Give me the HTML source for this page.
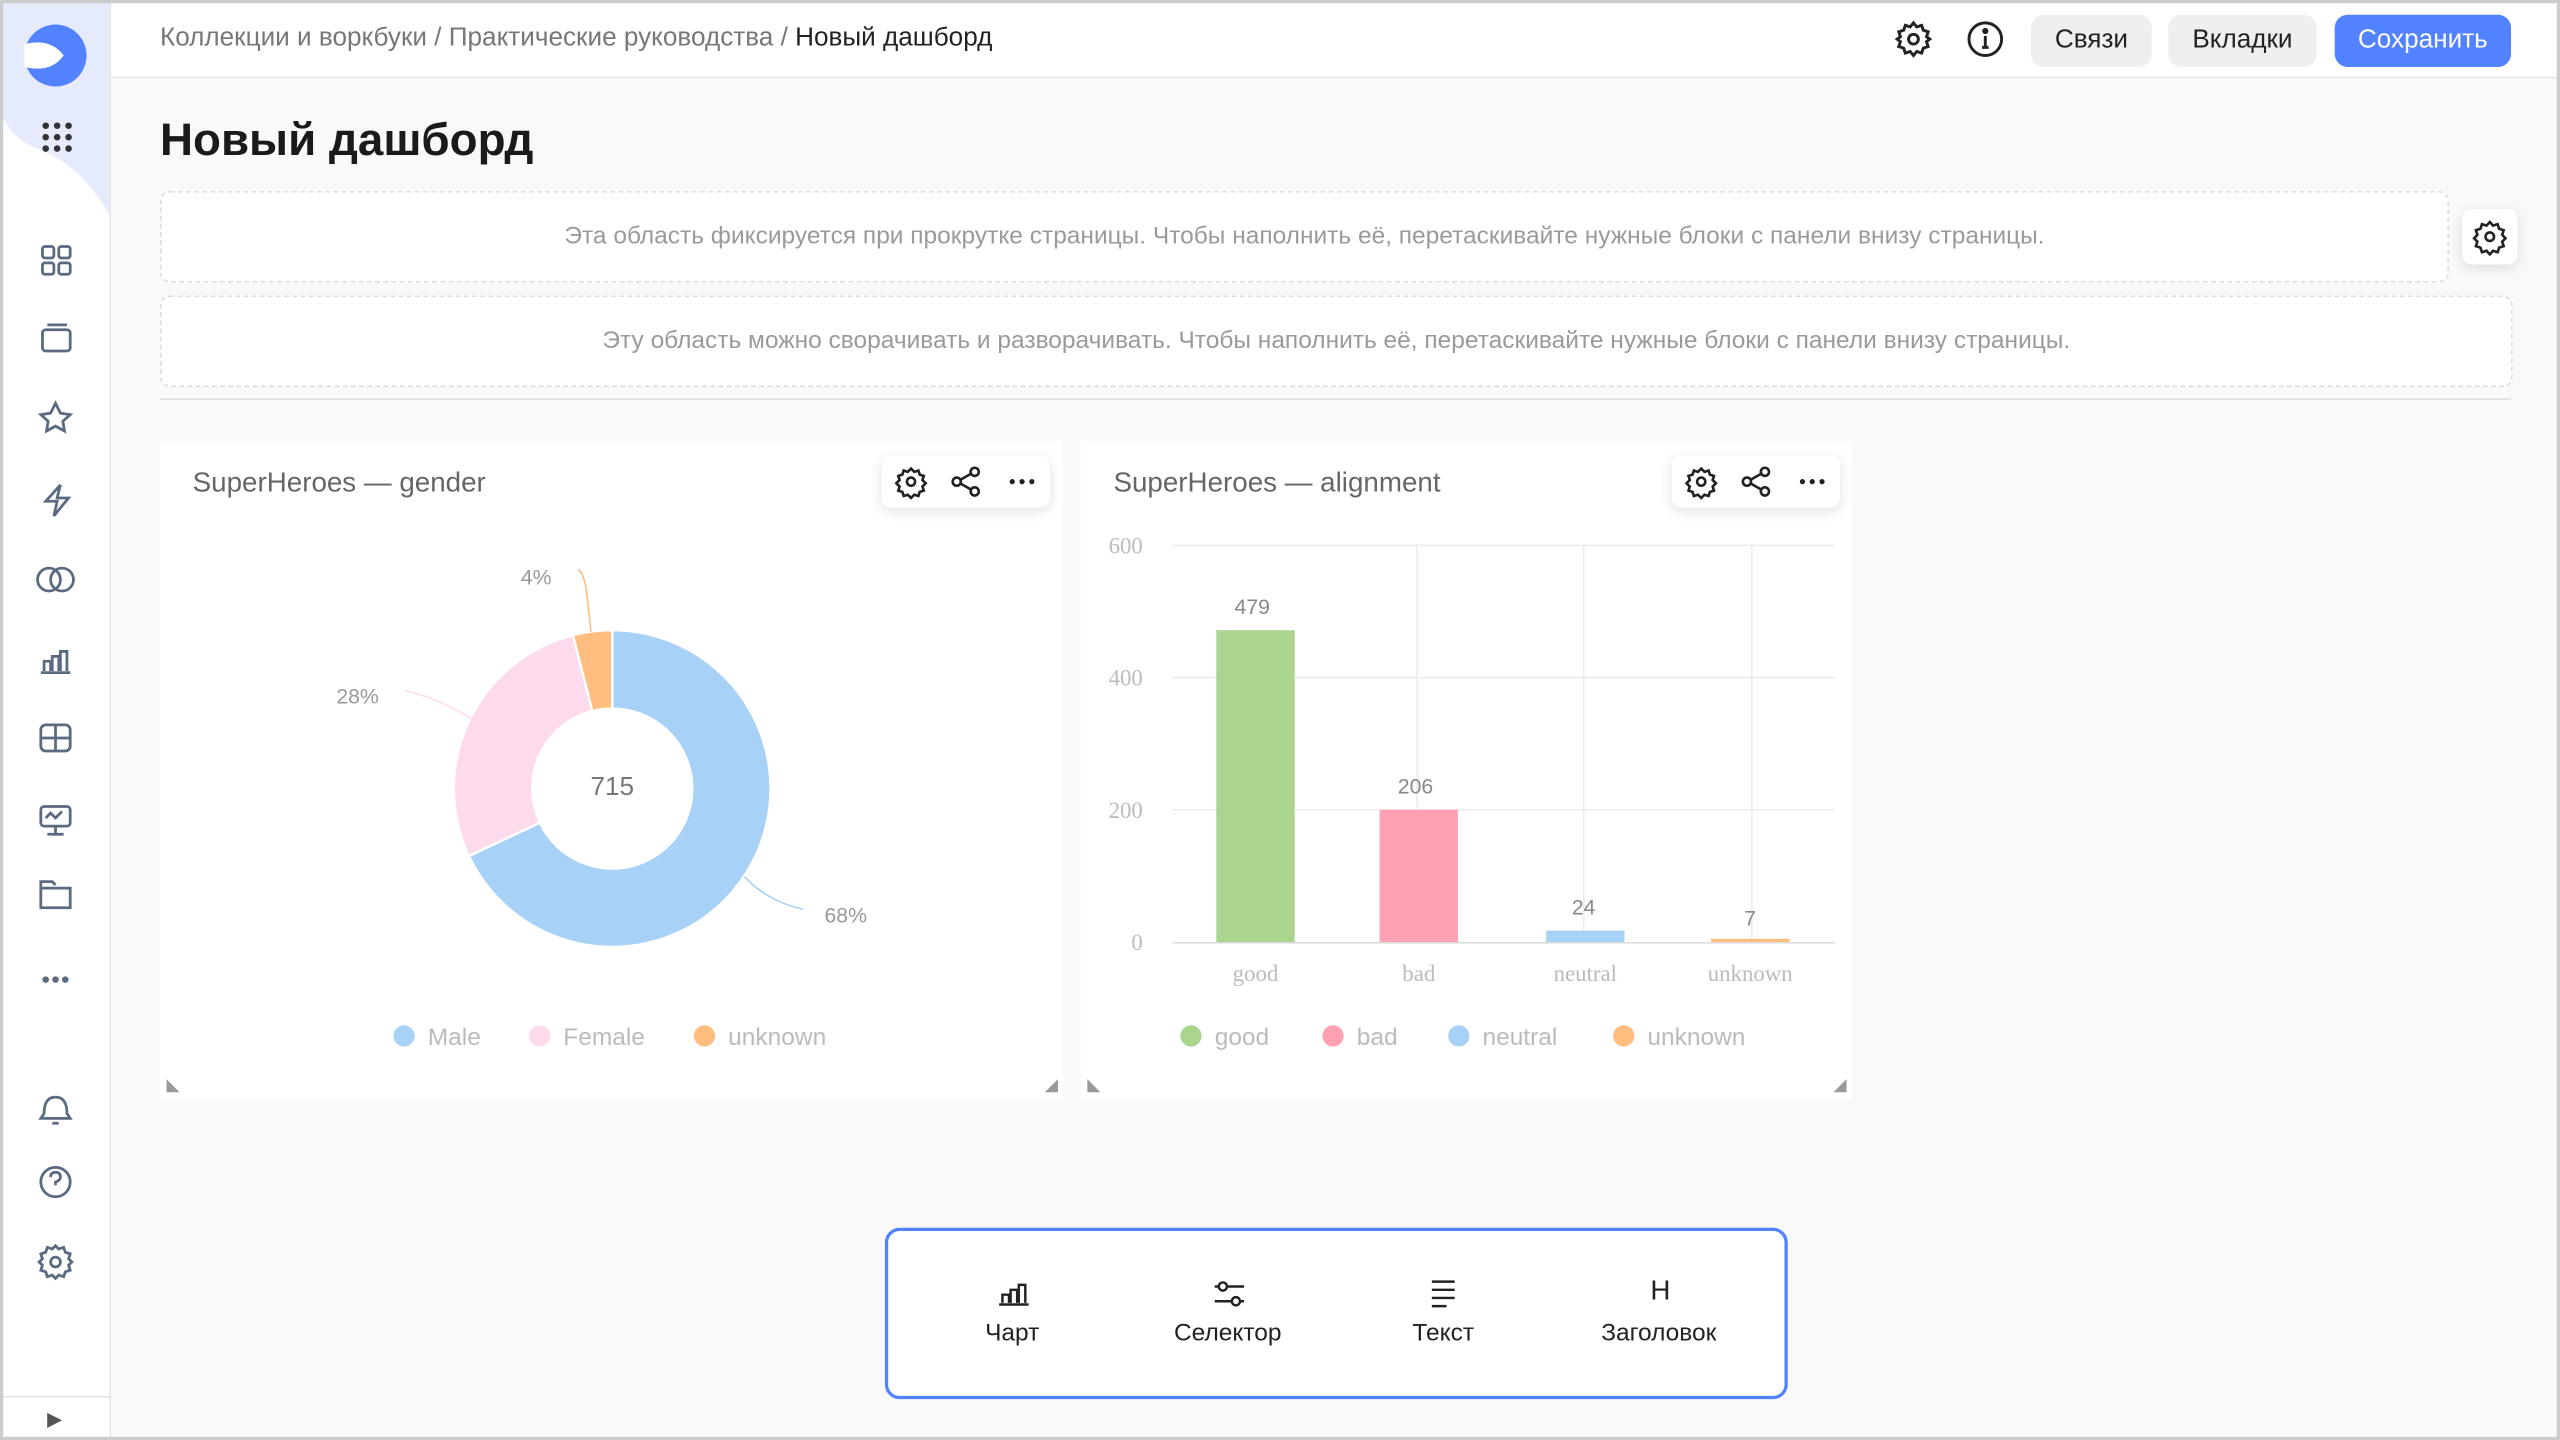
<!DOCTYPE html>
<html><head><meta charset="utf-8">
<style>
html,body{margin:0;padding:0;width:2560px;height:1440px;overflow:hidden;background:#fff}
#s{position:absolute;left:0;top:0;width:1568px;height:882px;transform:scale(1.632653);transform-origin:0 0;background:#f9f9f9;font-family:"Liberation Sans","DejaVu Sans",sans-serif;color:#222;overflow:hidden}
.a{position:absolute}
.btn{position:absolute;top:9px;height:32px;border-radius:8px;background:#efefef;font-size:16px;line-height:32px;text-align:center;color:#222}
.dash{position:absolute;background:#fff;border:1px dashed #ddd;border-radius:6px;font-size:15px;color:#9a9a9a;text-align:center}
.card{position:absolute;background:#fff;top:270px;height:404px}
.ttl{position:absolute;left:20px;top:16px;font-size:17px;color:#666}
.tb{position:absolute;top:9px;height:32px;width:103px;background:#fff;border-radius:6px;box-shadow:0 2px 8px rgba(0,0,0,.12)}
.lg{position:absolute;font-size:15px;color:#bbb}
.dot{display:inline-block;width:13px;height:13px;border-radius:50%;vertical-align:-1px;margin-right:8px}
.pi{position:absolute;top:30px;width:100px;text-align:center;font-size:15px;color:#222}
</style></head><body><div id="s">
<!-- sidebar -->
<div class="a" style="left:0;top:0;width:67px;height:882px;background:#fff;border-right:1px solid #e5e5e5"></div>
<svg class="a" style="left:0;top:0" width="68" height="140"><path d="M0 0H67V132Q50 100 20 90Q0 80 0 60Z" fill="#e6ebfc"/>
<circle cx="34" cy="34" r="19" fill="#5282ff"/><path d="M15 27Q31 23 39 34Q31 45 15 41Z" fill="#fff"/>
<g fill="#333"><circle cx="28" cy="77" r="2"/><circle cx="35" cy="77" r="2"/><circle cx="42" cy="77" r="2"/><circle cx="28" cy="84" r="2"/><circle cx="35" cy="84" r="2"/><circle cx="42" cy="84" r="2"/><circle cx="28" cy="91" r="2"/><circle cx="35" cy="91" r="2"/><circle cx="42" cy="91" r="2"/></g></svg>
<svg class="a" style="left:0;top:140px" width="66" height="700" fill="none" stroke="#5a6a80" stroke-width="1.7">
<rect x="26" y="11" width="7" height="7" rx="1.5"/><rect x="36" y="11" width="7" height="7" rx="1.5"/><rect x="26" y="21" width="7" height="7" rx="1.5"/><rect x="36" y="21" width="7" height="7" rx="1.5"/>
<rect x="26" y="62" width="17" height="13" rx="2"/><path d="M29 59h12"/>
<path d="M34 107l3 6 6 1-4.5 4 1 6-5.5-3-5.5 3 1-6-4.5-4 6-1z"/>
<path d="M37 157l-9 10h7l-2 9 9-11h-7z"/>
<circle cx="30" cy="215" r="7"/><circle cx="38" cy="215" r="7"/>
<path d="M25 272h18M27 271v-6h4v6M32 271v-9h4v9M37 271v-12h4v12"/>
<rect x="25" y="304" width="18" height="16" rx="3"/><path d="M25 312h18M34 304v16"/>
<rect x="25" y="354" width="18" height="12" rx="2"/><path d="M34 366v5M29 371h10M28 361l3-3 3 3 4-4"/>
<path d="M25 404h18v12H25zM25 404v-4h7l2 2"/>
<g fill="#5a6a80" stroke="none"><circle cx="28" cy="460" r="2"/><circle cx="34" cy="460" r="2"/><circle cx="40" cy="460" r="2"/></g>
<path d="M27 542q0-10 7-10t7 10l2 3H25zM32 548h4"/>
<circle cx="34" cy="584" r="9"/><path d="M31 581q0-3 3-3t3 3q0 2-3 3v2"/>
<circle cx="34" cy="633" r="3"/><path d="M34 623l2 2 3-1 1 3 3 1-1 3 2 2-2 2 1 3-3 1-1 3-3-1-2 2-2-2-3 1-1-3-3-1 1-3-2-2 2-2-1-3 3-1 1-3 3 1z"/>
</svg>
<div class="a" style="left:0;top:855px;width:67px;height:27px;border-top:1px solid #e5e5e5;background:#fff;text-align:center;font-size:12px;line-height:27px;color:#555">▶</div>
<!-- header -->
<div class="a" style="left:68px;top:0;right:0;height:47px;background:#fff;border-bottom:1px solid #e5e5e5"></div>
<div class="a" style="left:98px;top:15px;font-size:16px;color:#777">Коллекции и воркбуки / Практические руководства / <span style="color:#222">Новый дашборд</span></div>
<svg class="a" style="left:1160px;top:12px" width="70" height="24" fill="none" stroke="#222" stroke-width="1.8"><circle cx="12" cy="12" r="3"/><path d="M12 2l2 2.5 3-1 1 3 3 1-1 3 2 1.5-2 1.5 1 3-3 1-1 3-3-1-2 2.5-2-2.5-3 1-1-3-3-1 1-3-2-1.5 2-1.5-1-3 3-1 1-3 3 1z"/><circle cx="56" cy="12" r="10"/><path d="M56 10v7M54 17h4" /><circle cx="56" cy="7" r="1" fill="#222"/></svg>
<div class="btn" style="left:1244px;width:74px">Связи</div>
<div class="btn" style="left:1328px;width:91px">Вкладки</div>
<div class="btn" style="left:1430px;width:108px;background:#5282ff;color:#fff">Сохранить</div>
<div class="a" style="left:98px;top:70px;font-size:28px;font-weight:bold;color:#1a1a1a">Новый дашборд</div>
<div class="dash" style="left:98px;top:117px;width:1400px;height:54px;line-height:54px">Эта область фиксируется при прокрутке страницы. Чтобы наполнить её, перетаскивайте нужные блоки с панели внизу страницы.</div>
<div class="a" style="left:1508px;top:128px;width:34px;height:34px;background:#fff;border-radius:6px;box-shadow:0 2px 8px rgba(0,0,0,.12)"><svg width="34" height="34" fill="none" stroke="#222" stroke-width="1.6"><circle cx="17" cy="17" r="2.6"/><path d="M17 8l2 2.2 2.8-.9.9 2.8 2.8.9-.9 2.8 2 2.2-2 2 .9 2.8-2.8.9-.9 2.8-2.8-.9-2 2.2-2-2.2-2.8.9-.9-2.8-2.8-.9.9-2.8-2-2 2-2.2-.9-2.8 2.8-.9.9-2.8 2.8.9z"/></svg></div>
<div class="dash" style="left:98px;top:181px;width:1439px;height:54px;line-height:54px">Эту область можно сворачивать и разворачивать. Чтобы наполнить её, перетаскивайте нужные блоки с панели внизу страницы.</div>
<div class="a" style="left:98px;top:244px;width:1440px;height:1px;background:#e0e0e0"></div>
<!-- card 1 -->
<div class="card" style="left:98px;width:553px">
<div class="ttl">SuperHeroes — gender</div>
<div class="tb" style="left:442px"></div>
<div class="lg" style="left:143px;top:357px"><span class="dot" style="background:#a8d1f8"></span>Male</div>
<div class="lg" style="left:226px;top:357px"><span class="dot" style="background:#fedaed"></span>Female</div>
<div class="lg" style="left:327px;top:357px"><span class="dot" style="background:#ffbe80"></span>unknown</div>
</div>
<!-- card 2 -->
<div class="card" style="left:662px;width:472px">
<div class="ttl">SuperHeroes — alignment</div>
<div class="tb" style="left:362px"></div>
<div class="lg" style="left:61px;top:357px"><span class="dot" style="background:#abd48f"></span>good</div>
<div class="lg" style="left:148px;top:357px"><span class="dot" style="background:#ffa0b4"></span>bad</div>
<div class="lg" style="left:225px;top:357px"><span class="dot" style="background:#a8d1f8"></span>neutral</div>
<div class="lg" style="left:326px;top:357px"><span class="dot" style="background:#ffbe80"></span>unknown</div>
</div>
<svg class="a" style="left:0;top:0" width="1568" height="882">
<g fill="none" stroke="#222" stroke-width="1.6">
<g id="g1"><circle cx="558" cy="295" r="2.5"/><path d="M558 287l2 2 2.5-.8.8 2.5 2.5.8-.8 2.5 2 2-2 2 .8 2.5-2.5.8-.8 2.5-2.5-.8-2 2-2-2-2.5.8-.8-2.5-2.5-.8.8-2.5-2-2 2-2-.8-2.5 2.5-.8.8-2.5 2.5.8z"/>
<circle cx="586" cy="295" r="2.5"/><circle cx="597" cy="289" r="2.5"/><circle cx="597" cy="301" r="2.5"/><path d="M588 294l7-4M588 296l7 4"/></g>
<use href="#g1" x="484"/>
</g>
<g fill="#222"><circle cx="620" cy="295" r="1.6"/><circle cx="626" cy="295" r="1.6"/><circle cx="632" cy="295" r="1.6"/><circle cx="1104" cy="295" r="1.6"/><circle cx="1110" cy="295" r="1.6"/><circle cx="1116" cy="295" r="1.6"/></g>
<!-- donut -->
<g stroke="#fff" stroke-width="1.5">
<path d="M375,386 A97,97 0 1 1 287.2,524.3 L330.7,503.9 A49,49 0 1 0 375,434 Z" fill="#a8d1f8"/>
<path d="M287.2,524.3 A97,97 0 0 1 350.9,389.05 L362.8,435.5 A49,49 0 0 0 330.7,503.9 Z" fill="#fedaed"/>
<path d="M350.9,389.05 A97,97 0 0 1 375,386 L375,434 A49,49 0 0 0 362.8,435.5 Z" fill="#ffbe80"/>
</g>
<path d="M456 537Q470 552 492 557" stroke="#a8d1f8" fill="none"/>
<path d="M290 441Q270 428 248 423" stroke="#fedaed" fill="none"/>
<path d="M362 387L359 360Q357 350 354 349" stroke="#ffbe80" fill="none"/>
<g font-family="Liberation Sans,sans-serif" font-size="13" fill="#999">
<text x="505" y="565">68%</text><text x="206" y="431">28%</text><text x="319" y="358">4%</text>
<text x="375" y="487" text-anchor="middle" font-size="16" fill="#777">715</text></g>
<!-- bars -->
<g stroke="#ececec"><path d="M718 334H1124M718 415H1124M718 496H1124"/><path d="M868 334V577M970 334V577M1073 334V577"/></g>
<path d="M718 577.5H1124" stroke="#ddd"/>
<rect x="745" y="386" width="48" height="191" fill="#abd48f"/>
<rect x="845" y="496" width="48" height="81" fill="#ffa0b4"/>
<rect x="947" y="570" width="48" height="7" fill="#a8d1f8"/>
<rect x="1048" y="575" width="48" height="2" fill="#ffbe80"/>
<g font-family="Liberation Serif,serif" font-size="14" fill="#bbb" text-anchor="end"><text x="700" y="339">600</text><text x="700" y="420">400</text><text x="700" y="501">200</text><text x="700" y="582">0</text></g>
<g font-family="Liberation Serif,serif" font-size="14" fill="#bbb" text-anchor="middle"><text x="769" y="601">good</text><text x="869" y="601">bad</text><text x="971" y="601">neutral</text><text x="1072" y="601">unknown</text></g>
<g font-family="Liberation Sans,sans-serif" font-size="13" fill="#888" text-anchor="middle"><text x="767" y="376">479</text><text x="867" y="486">206</text><text x="970" y="560">24</text><text x="1072" y="567">7</text></g>
<g fill="#999"><path d="M102 661l8 8h-8z"/><path d="M648 661v8h-8z"/><path d="M666 661l8 8h-8z"/><path d="M1131 661v8h-8z"/></g>
</svg>
<!-- bottom panel -->
<div class="a" style="left:542px;top:752px;width:549px;height:101px;background:#fff;border:2px solid #5282ff;border-radius:9px">
<svg class="a" style="left:0;top:-2px" width="548" height="60" fill="none" stroke="#222" stroke-width="1.5">
<path d="M68 47h18M70 46v-5h4v5M75 46v-8h4v8M80 46v-11h4v11"/>
<path d="M200 36h18M200 45h18"/><circle cx="205" cy="36" r="2.5" fill="#fff"/><circle cx="213" cy="45" r="2.5" fill="#fff"/>
<path d="M333 33h14M333 38h14M333 43h14M333 48h9"/>
</svg>
<div class="a" style="left:463px;top:27px;width:20px;text-align:center;font-size:17px">H</div>
<div class="pi" style="left:26px;top:54px">Чарт</div>
<div class="pi" style="left:158px;top:54px">Селектор</div>
<div class="pi" style="left:290px;top:54px">Текст</div>
<div class="pi" style="left:422px;top:54px">Заголовок</div>
</div>
<div class="a" style="left:0;top:0;width:1568px;height:882px;box-sizing:border-box;border:2px solid #ccc;pointer-events:none"></div>
</div></body></html>
